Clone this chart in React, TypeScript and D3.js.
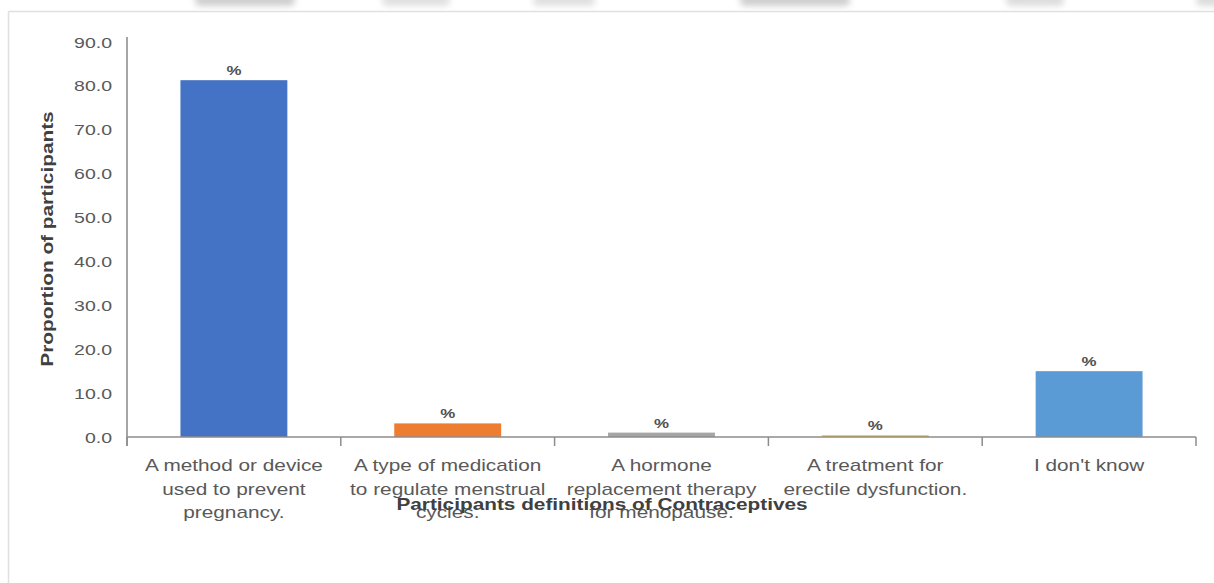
import React from "react";
import * as d3 from "d3";

// Survey responses: how participants define contraceptives
const categories: string[][] = [
  ["A method or device", "used to prevent", "pregnancy."],
  ["A type of medication", "to regulate menstrual", "cycles."],
  ["A hormone", "replacement therapy", "for menopause."],
  ["A treatment for", "erectile dysfunction."],
  ["I don't know"],
];
const percentages: number[] = [81.3, 3.1, 1.0, 0.4, 15.0];
const barColors: string[] = ["#4472C4", "#ED7D31", "#A5A5A5", "#FFC000", "#5B9BD5"];
const yTicks: number[] = [0, 10, 20, 30, 40, 50, 60, 70, 80, 90];
const valueLabel = "%";
const yTitle = "Proportion of participants";
const xTitle = "Participants definitions of Contraceptives";

// Toolbar strip above the chart frame (faded, out of focus)
const toolbarBlobs: [number, number, string][] = [
  [195, 100, "#cfcfcf"],
  [382, 68, "#e0e0e0"],
  [533, 62, "#e0e0e0"],
  [740, 110, "#cfcfcf"],
  [1006, 58, "#dcdcdc"],
  [1196, 30, "#dcdcdc"],
];

const W = 1214;
const H = 583;
const FONT = "'Liberation Sans', Arial, sans-serif";
const STRETCH = 1.3;

export default function App() {
  const left = 127;
  const right = 1196;
  const top = 42;
  const bottom = 437;

  const x = d3
    .scaleBand<number>()
    .domain(d3.range(categories.length))
    .range([left, right])
    .paddingInner(0.5)
    .paddingOuter(0.25);
  const y = d3.scaleLinear().domain([0, 90]).range([bottom, top]);

  const step = x.step();
  const tickXs = d3.range(categories.length + 1).map((i) => left + i * step);

  return (
    <svg
      width={W}
      height={H}
      style={{ position: "absolute", left: 0, top: 0, background: "#fff" }}
      fontFamily={FONT}
    >
      <defs>
        <filter id="soft" filterUnits="userSpaceOnUse" x={0} y={-20} width={W} height={40}>
          <feGaussianBlur stdDeviation="3" />
        </filter>
      </defs>

      {/* toolbar strip */}
      <g filter="url(#soft)">
        {toolbarBlobs.map(([bx, bw, c], i) => (
          <rect key={i} x={bx} y={-6} width={bw} height={12} rx={5} fill={c} />
        ))}
      </g>
      <rect x={0} y={10} width={W} height={H} fill="#fff" />

      {/* chart frame */}
      <line x1={8.5} x2={W} y1={11.5} y2={11.5} stroke="#e0e0e0" strokeWidth={1.5} />
      <line x1={8.5} x2={8.5} y1={11.5} y2={H} stroke="#e0e0e0" strokeWidth={1.5} />

      {/* y tick labels */}
      {yTicks.map((t) => (
        <text
          key={t}
          transform={`translate(112,${y(t) + 5.5}) scale(${STRETCH},1)`}
          textAnchor="end"
          fontSize={15}
          fill="#595959"
        >
          {t.toFixed(1)}
        </text>
      ))}

      {/* bars */}
      {percentages.map((v, i) => (
        <rect
          key={i}
          x={x(i)}
          y={y(v)}
          width={x.bandwidth()}
          height={bottom - y(v)}
          fill={barColors[i]}
        />
      ))}

      {/* value labels */}
      {percentages.map((v, i) => (
        <text
          key={i}
          transform={`translate(${(x(i) as number) + x.bandwidth() / 2},${y(v) - 5}) scale(${STRETCH},1)`}
          textAnchor="middle"
          fontSize={13}
          fontWeight="bold"
          fill="#505050"
        >
          {valueLabel}
        </text>
      ))}

      {/* axes */}
      <line x1={left} x2={left} y1={37} y2={446} stroke="#a6a6a6" strokeWidth={2} />
      <line x1={left} x2={right} y1={bottom} y2={bottom} stroke="#8c8c8c" strokeWidth={1.5} />
      {tickXs.map((tx, i) => (
        <line key={i} x1={tx} x2={tx} y1={bottom} y2={446} stroke="#8c8c8c" strokeWidth={1.5} />
      ))}

      {/* category labels */}
      {categories.map((lines, i) =>
        lines.map((ln, j) => (
          <text
            key={`${i}-${j}`}
            transform={`translate(${(x(i) as number) + x.bandwidth() / 2},${471 + j * 23.5}) scale(${STRETCH},1)`}
            textAnchor="middle"
            fontSize={16}
            fill="#595959"
          >
            {ln}
          </text>
        ))
      )}

      {/* axis titles */}
      <text
        transform={`translate(602,510) scale(${STRETCH},1)`}
        textAnchor="middle"
        fontSize={16}
        fontWeight="bold"
        fill="#404040"
      >
        {xTitle}
      </text>
      <text
        transform={`translate(53,239) rotate(-90) scale(${STRETCH},1)`}
        textAnchor="middle"
        fontSize={16}
        fontWeight="bold"
        fill="#404040"
      >
        {yTitle}
      </text>
    </svg>
  );
}
